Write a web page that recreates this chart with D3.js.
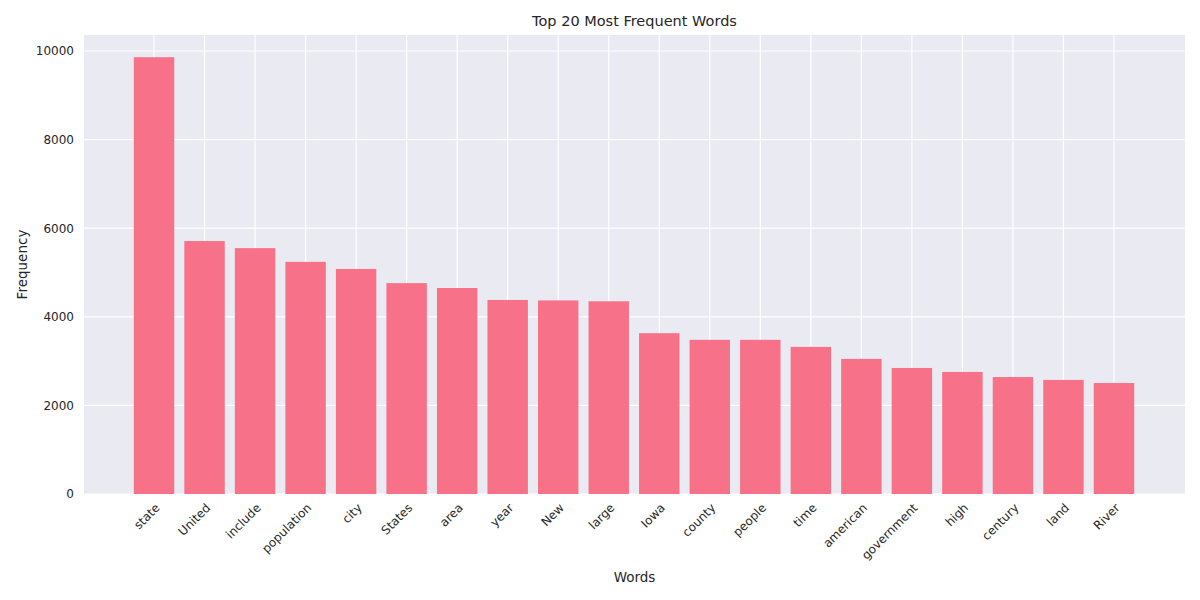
<!DOCTYPE html>
<html><head><meta charset="utf-8">
<script src="https://cdn.jsdelivr.net/npm/d3@7"></script>
<style>body{margin:0;background:#fff;font-family:"DejaVu Sans",Arial,sans-serif;}</style>
</head><body><svg></svg>
<script>
const words = ["state","United","include","population","city","States","area","year","New","large","Iowa","county","people","time","american","government","high","century","land","River"];
const counts = [9860,5710,5550,5240,5080,4760,4650,4380,4370,4350,3630,3480,3480,3320,3050,2845,2755,2640,2575,2505];
const yTicks = [0,2000,4000,6000,8000,10000];

const W = 1200, H = 600;
const plot = { left: 84, right: 1185, top: 35, bottom: 494 };

const svg = d3.select("svg").attr("width", W).attr("height", H);

svg.append("rect")
  .attr("x", plot.left).attr("y", plot.top)
  .attr("width", plot.right - plot.left).attr("height", plot.bottom - plot.top)
  .attr("fill", "#eaeaf2");

const x = d3.scaleBand().domain(words).range([128.75, 1139.25]).paddingInner(0.2).paddingOuter(0.1);
const y = d3.scaleLinear().domain([0, 10000]).range([plot.bottom, 51]);

// grid
svg.append("g").selectAll("line").data(yTicks).join("line")
  .attr("x1", plot.left).attr("x2", plot.right)
  .attr("y1", d => y(d)).attr("y2", d => y(d))
  .attr("stroke", "#fff").attr("stroke-width", 1.2);
svg.append("g").selectAll("line").data(words).join("line")
  .attr("x1", d => x(d) + x.bandwidth() / 2).attr("x2", d => x(d) + x.bandwidth() / 2)
  .attr("y1", plot.top).attr("y2", plot.bottom)
  .attr("stroke", "#fff").attr("stroke-width", 1.2);

svg.append("g").selectAll("rect").data(words).join("rect")
  .attr("x", d => x(d)).attr("width", x.bandwidth())
  .attr("y", (d, i) => y(counts[i])).attr("height", (d, i) => y(0) - y(counts[i]))
  .attr("fill", "#f77189");

const yAxis = svg.append("g").attr("transform", `translate(${plot.left},0)`)
  .call(d3.axisLeft(y).tickValues(yTicks).tickSize(0).tickPadding(10).tickFormat(d3.format("d")));
yAxis.select(".domain").remove();
yAxis.selectAll("text").attr("font-size", 12).attr("fill", "#262626").attr("font-family", "DejaVu Sans, Arial, sans-serif");

const xAxis = svg.append("g").attr("transform", `translate(0,${plot.bottom})`)
  .call(d3.axisBottom(x).tickSize(0).tickPadding(0));
xAxis.select(".domain").remove();
xAxis.selectAll("text")
  .attr("font-size", 12).attr("fill", "#262626").attr("font-family", "DejaVu Sans, Arial, sans-serif")
  .attr("text-anchor", "end").attr("dy", "0.3em")
  .attr("transform", "translate(4,12) rotate(-45)");

svg.append("text").attr("x", (plot.left + plot.right) / 2).attr("y", 26)
  .attr("text-anchor", "middle").attr("font-size", 14.5).attr("fill", "#262626").text("Top 20 Most Frequent Words");
svg.append("text").attr("x", (plot.left + plot.right) / 2).attr("y", 582)
  .attr("text-anchor", "middle").attr("font-size", 13.5).attr("fill", "#262626").text("Words");
svg.append("text").attr("transform", `translate(27,${(plot.top + plot.bottom) / 2}) rotate(-90)`)
  .attr("text-anchor", "middle").attr("font-size", 13.5).attr("fill", "#262626").text("Frequency");
</script></body></html>
